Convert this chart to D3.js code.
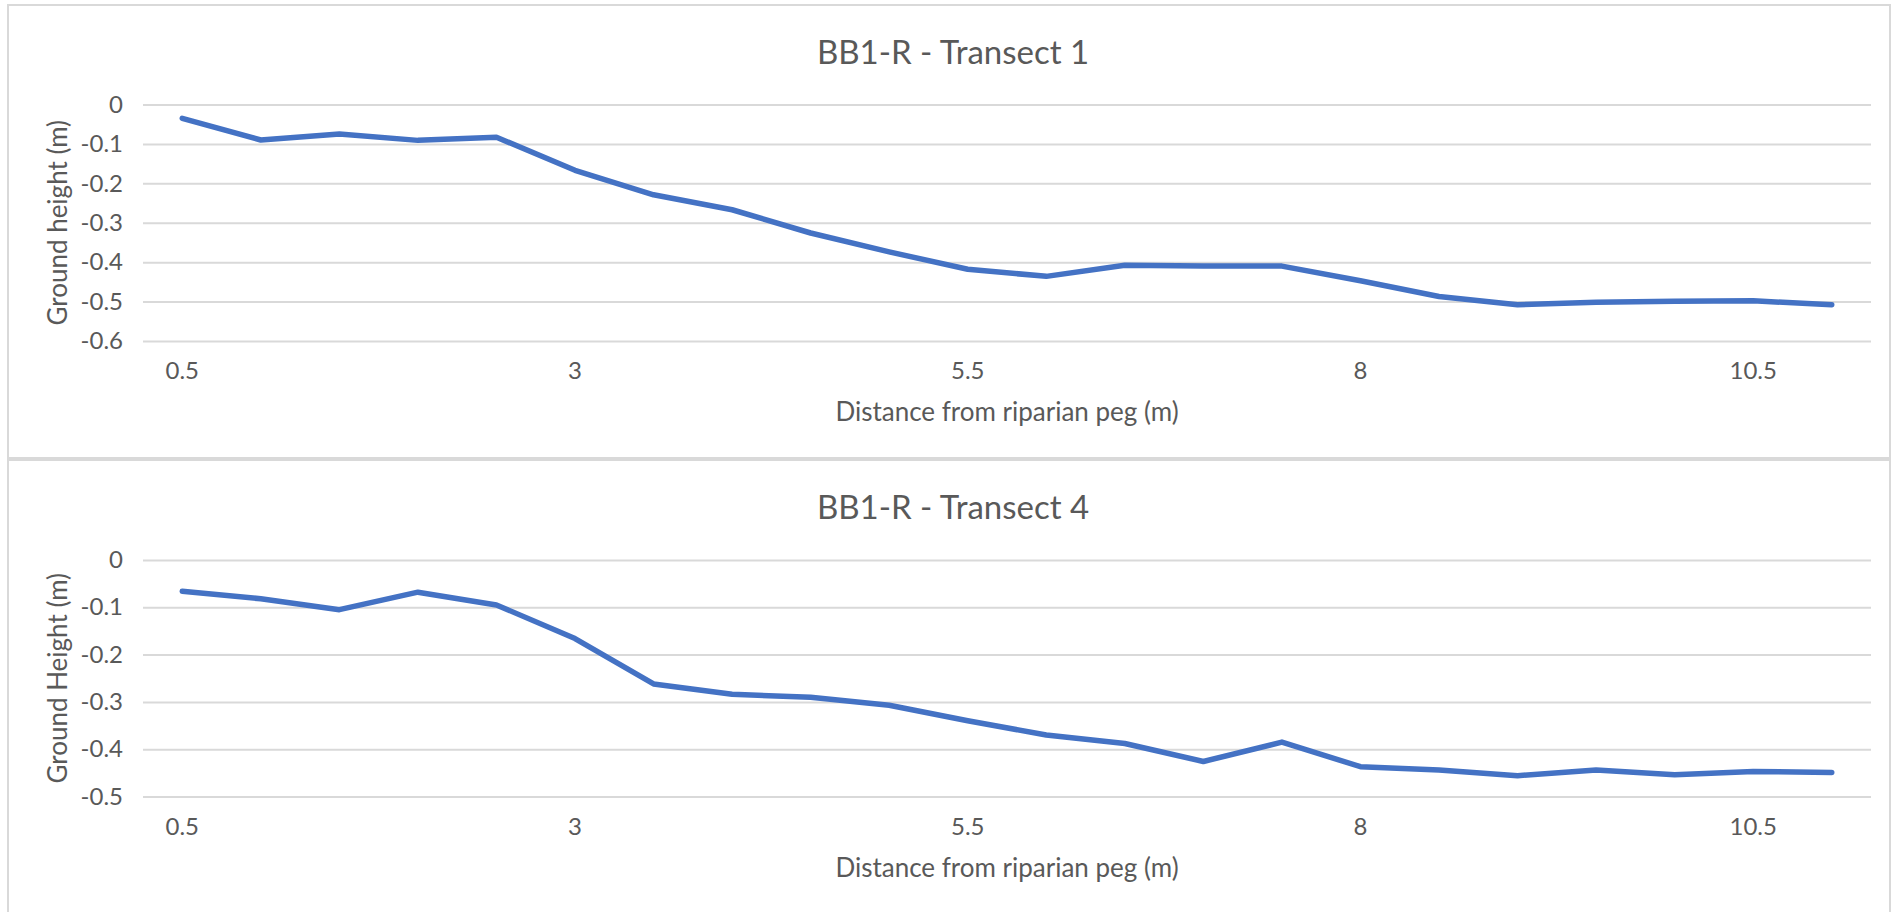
<!DOCTYPE html>
<html>
<head>
<meta charset="utf-8">
<script src="https://cdn.jsdelivr.net/npm/d3@7"></script>
<style>
    body { margin: 0; background: #ffffff; }
    svg { display: block; }
    .chart-text { font-family: Lato, "Open Sans", sans-serif; fill: #595959; }
</style>
</head>
<body>
<div id="charts"></div>
<script>

// distance from the riparian peg (m)
var distances = [0.5, 1, 1.5, 2, 2.5, 3, 3.5, 4, 4.5, 5, 5.5, 6, 6.5, 7, 7.5, 8, 8.5, 9, 9.5, 10, 10.5, 11];

// ground height (m)
var transect1 = [-0.035, -0.09, -0.075, -0.091, -0.083, -0.167, -0.229, -0.267, -0.326, -0.374, -0.418, -0.436, -0.408, -0.41, -0.41, -0.447, -0.487, -0.508, -0.502, -0.499, -0.498, -0.508];
var transect4 = [-0.066, -0.082, -0.105, -0.068, -0.095, -0.166, -0.262, -0.284, -0.29, -0.307, -0.34, -0.37, -0.388, -0.426, -0.385, -0.437, -0.444, -0.456, -0.444, -0.454, -0.447, -0.449];

var xTickLabels = [0.5, 3, 5.5, 8, 10.5];
var yTicks1 = [0, -0.1, -0.2, -0.3, -0.4, -0.5, -0.6];
var yTicks4 = [0, -0.1, -0.2, -0.3, -0.4, -0.5];

var width = 1903;
var height = 912;

var svg = d3.select('#charts')
    .append('svg')
    .attr('width', width)
    .attr('height', height);

function lineChart() {

    var top = 0;
    var panel_height = 454;
    var title = '';
    var y_label = '';
    var x_label = 'Distance from riparian peg (m)';
    var y_ticks = [];
    var values = [];
    var plot = {left: 143, right: 1871, top: 104, bottom: 341};

    function chart(g) {

        g.attr('transform', 'translate(0,' + top + ')');

        g.append('rect')
            .attr('x', 8)
            .attr('y', 5)
            .attr('width', 1882)
            .attr('height', panel_height)
            .attr('fill', '#ffffff')
            .attr('stroke', '#d9d9d9')
            .attr('stroke-width', 2);

        var x_scale = d3.scaleBand()
            .range([plot.left, plot.right])
            .domain(distances);

        var y_scale = d3.scaleLinear()
            .range([plot.bottom, plot.top])
            .domain([d3.min(y_ticks), d3.max(y_ticks)]);

        var y_axis = d3.axisLeft(y_scale)
            .tickValues(y_ticks)
            .tickSize(-(plot.right - plot.left))
            .tickPadding(20)
            .tickFormat(function(d){ return String(d); });

        var gy = g.append('g')
            .attr('class', 'y axis')
            .attr('transform', 'translate(' + plot.left + ',0)')
            .call(y_axis);
        gy.select('.domain').remove();
        gy.selectAll('line')
            .attr('stroke', '#d9d9d9')
            .attr('stroke-width', 2);
        gy.selectAll('text')
            .attr('class', 'chart-text')
            .attr('font-size', '24px');

        var x_axis = d3.axisBottom(x_scale)
            .tickValues(xTickLabels)
            .tickSize(0)
            .tickPadding(21)
            .tickFormat(function(d){ return String(d); });

        var gx = g.append('g')
            .attr('class', 'x axis')
            .attr('transform', 'translate(0,' + plot.bottom + ')')
            .call(x_axis);
        gx.select('.domain').remove();
        gx.selectAll('text')
            .attr('class', 'chart-text')
            .attr('font-size', '24px');

        var line = d3.line()
            .x(function(d, i){ return x_scale(distances[i]) + x_scale.bandwidth() / 2; })
            .y(function(d){ return y_scale(d); });

        g.append('path')
            .datum(values)
            .attr('fill', 'none')
            .attr('stroke', '#4472c4')
            .attr('stroke-width', 5.5)
            .attr('stroke-linejoin', 'round')
            .attr('stroke-linecap', 'round')
            .attr('d', line);

        g.append('text')
            .attr('class', 'chart-text')
            .attr('x', 953)
            .attr('y', 52)
            .attr('dy', '0.35em')
            .attr('text-anchor', 'middle')
            .attr('font-size', '33px')
            .text(title);

        g.append('text')
            .attr('class', 'chart-text')
            .attr('x', (plot.left + plot.right) / 2)
            .attr('y', plot.bottom + 71)
            .attr('dy', '0.35em')
            .attr('text-anchor', 'middle')
            .attr('font-size', '26px')
            .text(x_label);

        g.append('text')
            .attr('class', 'chart-text')
            .attr('transform', 'translate(58,' + ((plot.top + plot.bottom) / 2) + ') rotate(-90)')
            .attr('dy', '0.35em')
            .attr('text-anchor', 'middle')
            .attr('font-size', '26px')
            .text(y_label);
    }

    chart.top = function(value) { top = value; return chart; };
    chart.panel_height = function(value) { panel_height = value; return chart; };
    chart.title = function(value) { title = value; return chart; };
    chart.y_label = function(value) { y_label = value; return chart; };
    chart.y_ticks = function(value) { y_ticks = value; return chart; };
    chart.values = function(value) { values = value; return chart; };
    chart.plot = function(value) { plot = value; return chart; };

    return chart;
}

var chart1 = lineChart()
    .top(0)
    .panel_height(453)
    .title('BB1-R - Transect 1')
    .y_label('Ground height (m)')
    .y_ticks(yTicks1)
    .values(transect1)
    .plot({left: 143, right: 1871, top: 104.5, bottom: 341});

var chart4 = lineChart()
    .top(455)
    .panel_height(470)
    .title('BB1-R - Transect 4')
    .y_label('Ground Height (m)')
    .y_ticks(yTicks4)
    .values(transect4)
    .plot({left: 143, right: 1871, top: 105, bottom: 341.5});

svg.append('g').call(chart1);
svg.append('g').call(chart4);

</script>
</body>
</html>
